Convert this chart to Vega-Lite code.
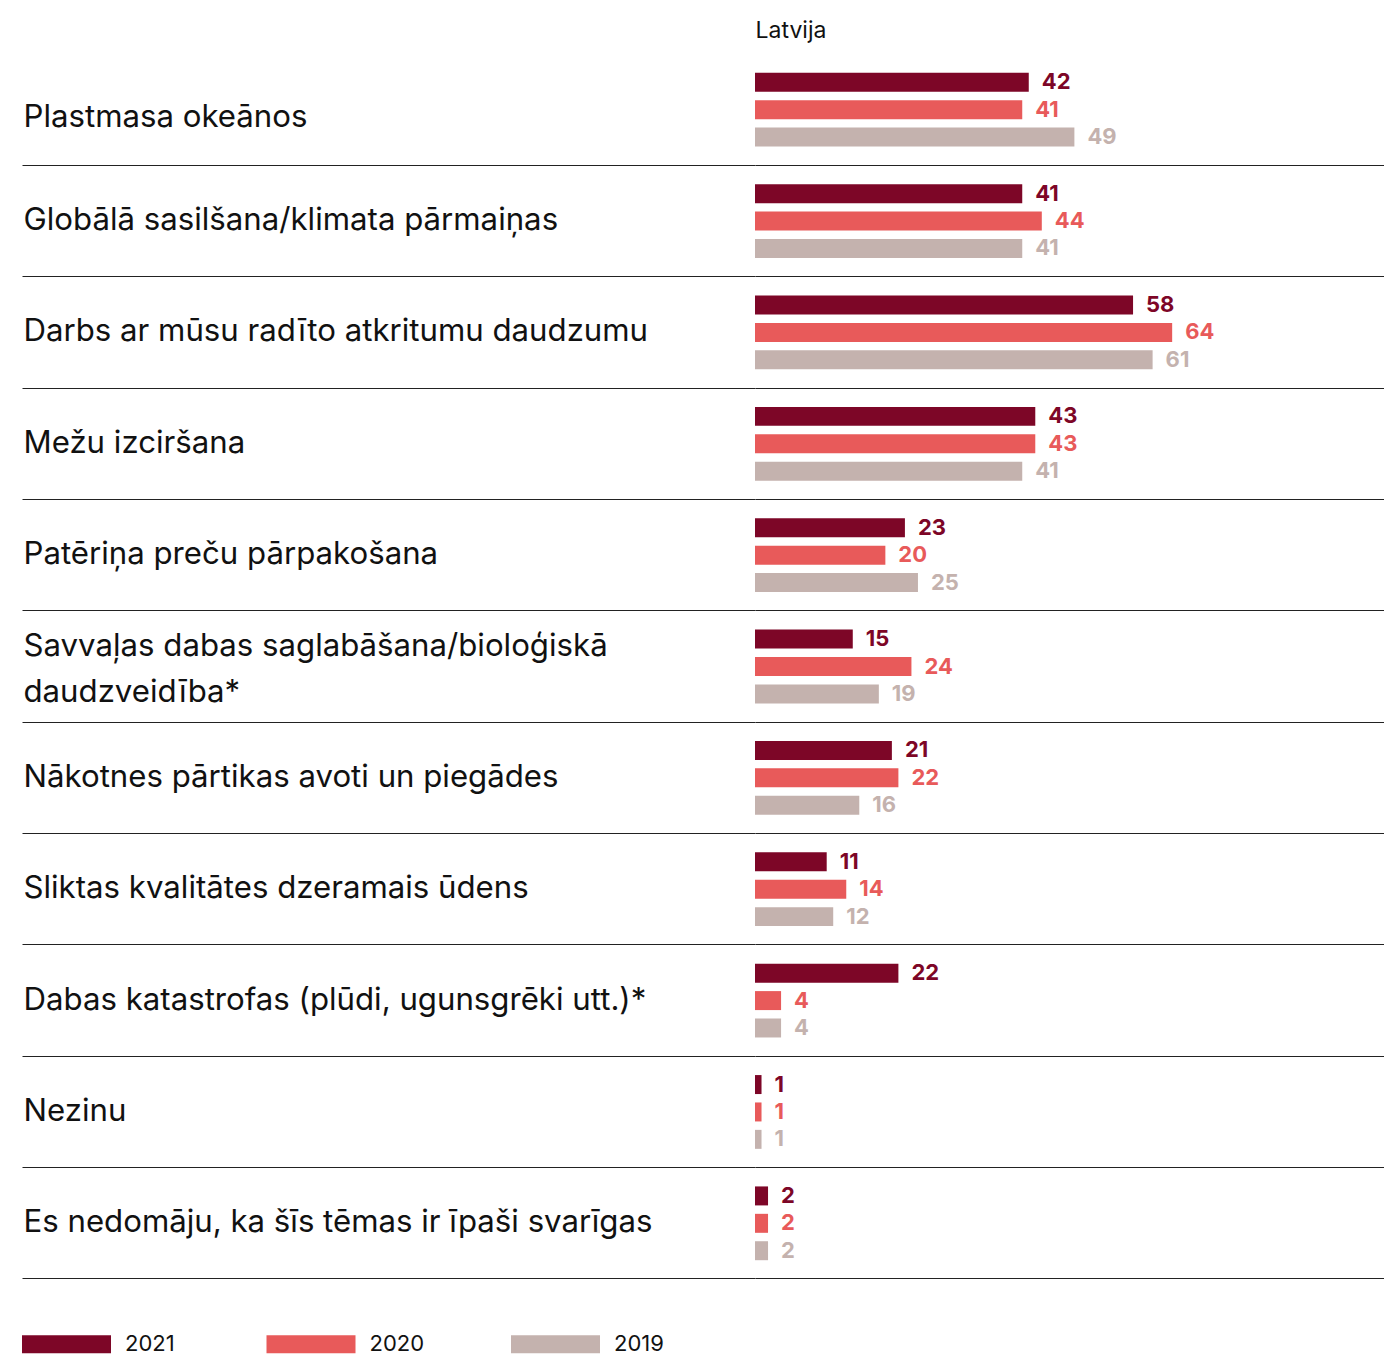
{
  "$schema": "https://vega.github.io/schema/vega-lite/v6.json",
  "width": 629,
  "height": 1225,
  "autosize": {"type": "none"},
  "padding": {"left": 755, "top": 54, "right": 0, "bottom": 75},
  "config": {
    "font": "Inter",
    "view": {"stroke": null},
    "text": {"font": "Inter"}
  },
  "data": {
    "values": [
      {"category": "Plastmasa okeānos", "year": "2021", "value": 42},
      {"category": "Plastmasa okeānos", "year": "2020", "value": 41},
      {"category": "Plastmasa okeānos", "year": "2019", "value": 49},
      {"category": "Globālā sasilšana/klimata pārmaiņas", "year": "2021", "value": 41},
      {"category": "Globālā sasilšana/klimata pārmaiņas", "year": "2020", "value": 44},
      {"category": "Globālā sasilšana/klimata pārmaiņas", "year": "2019", "value": 41},
      {"category": "Darbs ar mūsu radīto atkritumu daudzumu", "year": "2021", "value": 58},
      {"category": "Darbs ar mūsu radīto atkritumu daudzumu", "year": "2020", "value": 64},
      {"category": "Darbs ar mūsu radīto atkritumu daudzumu", "year": "2019", "value": 61},
      {"category": "Mežu izciršana", "year": "2021", "value": 43},
      {"category": "Mežu izciršana", "year": "2020", "value": 43},
      {"category": "Mežu izciršana", "year": "2019", "value": 41},
      {"category": "Patēriņa preču pārpakošana", "year": "2021", "value": 23},
      {"category": "Patēriņa preču pārpakošana", "year": "2020", "value": 20},
      {"category": "Patēriņa preču pārpakošana", "year": "2019", "value": 25},
      {"category": "Savvaļas dabas saglabāšana/bioloģiskā daudzveidība*", "year": "2021", "value": 15},
      {"category": "Savvaļas dabas saglabāšana/bioloģiskā daudzveidība*", "year": "2020", "value": 24},
      {"category": "Savvaļas dabas saglabāšana/bioloģiskā daudzveidība*", "year": "2019", "value": 19},
      {"category": "Nākotnes pārtikas avoti un piegādes", "year": "2021", "value": 21},
      {"category": "Nākotnes pārtikas avoti un piegādes", "year": "2020", "value": 22},
      {"category": "Nākotnes pārtikas avoti un piegādes", "year": "2019", "value": 16},
      {"category": "Sliktas kvalitātes dzeramais ūdens", "year": "2021", "value": 11},
      {"category": "Sliktas kvalitātes dzeramais ūdens", "year": "2020", "value": 14},
      {"category": "Sliktas kvalitātes dzeramais ūdens", "year": "2019", "value": 12},
      {"category": "Dabas katastrofas (plūdi, ugunsgrēki utt.)*", "year": "2021", "value": 22},
      {"category": "Dabas katastrofas (plūdi, ugunsgrēki utt.)*", "year": "2020", "value": 4},
      {"category": "Dabas katastrofas (plūdi, ugunsgrēki utt.)*", "year": "2019", "value": 4},
      {"category": "Nezinu", "year": "2021", "value": 1},
      {"category": "Nezinu", "year": "2020", "value": 1},
      {"category": "Nezinu", "year": "2019", "value": 1},
      {"category": "Es nedomāju, ka šīs tēmas ir īpaši svarīgas", "year": "2021", "value": 2},
      {"category": "Es nedomāju, ka šīs tēmas ir īpaši svarīgas", "year": "2020", "value": 2},
      {"category": "Es nedomāju, ka šīs tēmas ir īpaši svarīgas", "year": "2019", "value": 2}
    ]
  },
  "encoding": {
    "y": {
      "field": "category",
      "type": "nominal",
      "sort": null,
      "scale": {"paddingInner": 0, "paddingOuter": 0},
      "axis": {
        "title": null,
        "domain": false,
        "grid": true,
        "gridColor": "#222222",
        "gridWidth": 1,
        "ticks": true,
        "tickColor": "#222222",
        "tickWidth": 1,
        "tickSize": 733,
        "bandPosition": 1,
        "labelAlign": "left",
        "labelBaseline": "middle",
        "labelPadding": -1,
        "labelOffset": {
          "condition": [
            {"test": "datum.value == 'Plastmasa okeānos'", "value": 8},
            {"test": "datum.value == 'Savvaļas dabas saglabāšana/bioloģiskā daudzveidība*'", "value": -20}
          ],
          "value": 0
        },
        "labelFont": "Inter",
        "labelFontSize": 31.2,
        "labelColor": "#111111",
        "labelLimit": 0,
        "labelOverlap": false,
        "labelLineHeight": 46,
        "labelExpr": "datum.label == 'Savvaļas dabas saglabāšana/bioloģiskā daudzveidība*' ? ['Savvaļas dabas saglabāšana/bioloģiskā', 'daudzveidība*'] : datum.label"
      }
    },
    "yOffset": {
      "field": "year",
      "type": "nominal",
      "sort": ["2021", "2020", "2019"],
      "scale": {"paddingInner": 0.307, "paddingOuter": 0.686}
    },
    "x": {
      "field": "value",
      "type": "quantitative",
      "scale": {"domain": [0, 96.5], "nice": false, "zero": true},
      "axis": {
        "orient": "top",
        "title": "Latvija",
        "labels": false,
        "ticks": false,
        "domain": false,
        "grid": false,
        "titleAnchor": "start",
        "titleAlign": "left",
        "titleBaseline": "alphabetic",
        "titleFont": "Inter",
        "titleFontSize": 23,
        "titleFontWeight": "normal",
        "titleColor": "#111111",
        "titlePadding": 17
      }
    },
    "color": {
      "field": "year",
      "type": "nominal",
      "sort": ["2021", "2020", "2019"],
      "scale": {"domain": ["2021", "2020", "2019"], "range": ["#7d0627", "#e85a5a", "#c4b2ae"]},
      "legend": {
        "title": null,
        "orient": "none",
        "legendX": -733,
        "legendY": 1245.5,
        "direction": "horizontal",
        "gridAlign": "all",
        "symbolType": "M-1,-0.2H1V0.2H-1Z",
        "symbolSize": 7921,
        "symbolStrokeWidth": 0,
        "symbolOpacity": 1,
        "labelFont": "Inter",
        "labelFontSize": 22,
        "labelColor": "#111111",
        "labelOffset": 14,
        "columnPadding": 86.5
      }
    }
  },
  "layer": [
    {"mark": {"type": "bar"}},
    {
      "mark": {"type": "text", "align": "left", "baseline": "middle", "dx": 13, "fontWeight": "bold", "fontSize": 22, "font": "Inter"},
      "encoding": {"text": {"field": "value", "type": "quantitative"}}
    }
  ]
}
